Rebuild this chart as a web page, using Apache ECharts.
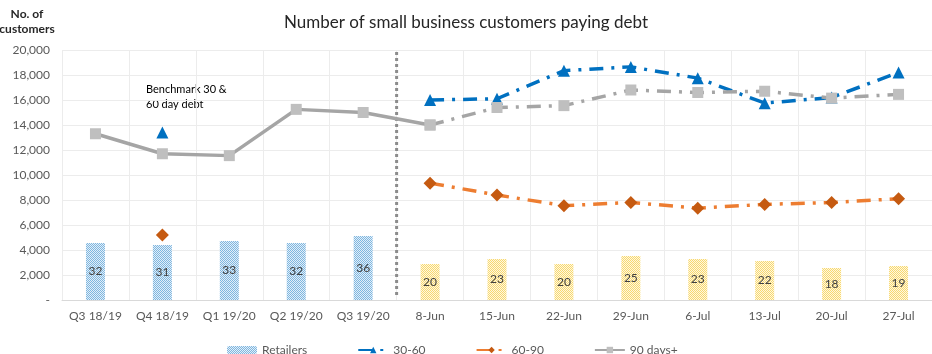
<!DOCTYPE html>
<html>
<head>
<meta charset="utf-8">
<script src="https://cdn.jsdelivr.net/npm/echarts@6/dist/echarts.min.js"></script>
<style>
html,body{margin:0;padding:0;background:#fff;}
#chart{width:932px;height:354px;}
</style>
</head>
<body>
<div id="chart"></div>
<script>
const categories = ['Q3 18/19','Q4 18/19','Q1 19/20','Q2 19/20','Q3 19/20','8-Jun','15-Jun','22-Jun','29-Jun','6-Jul','13-Jul','20-Jul','27-Jul'];
const retailerHeights = [4560,4400,4720,4560,5120,2880,3280,2880,3520,3280,3120,2560,2720];
const retailerLabels = [32,31,33,32,36,20,23,20,25,23,22,18,19];
const days30to60 = [null,13400,null,null,null,16000,16100,18350,18650,17750,15750,16200,18200];
const days60to90 = [null,5200,null,null,null,9350,8400,7550,7800,7350,7650,7800,8100];
const days90plus = [13300,11700,11550,15250,15000,14000,15400,15550,16800,16600,16700,16150,16450];
const weeklyStart = 5; // index of first weekly category

function pattern(c1, c2) {
  const cv = document.createElement('canvas');
  cv.width = 2; cv.height = 2;
  const ctx = cv.getContext('2d');
  ctx.fillStyle = c2; ctx.fillRect(0,0,2,2);
  ctx.fillStyle = c1; ctx.fillRect(0,0,1,1); ctx.fillRect(1,1,1,1);
  return {image: cv, repeat: 'repeat'};
}
const bluePat = pattern('#7fb6df', '#e2eff9');
const yellowPat = pattern('#f7d872', '#fff8de');

const FONT = 'Lato';
const barData = retailerHeights.map((v, i) => ({
  value: v,
  itemStyle: {color: i < weeklyStart ? bluePat : yellowPat},
  label: {formatter: String(retailerLabels[i])}
}));
const greySolid = days90plus.map((v, i) => i <= weeklyStart ? v : null);
const greyDashed = days90plus.map((v, i) => i >= weeklyStart ? v : null);
const dashDot = [14, 8, 3, 8];

const chart = echarts.init(document.getElementById('chart'));
chart.setOption({
  animation: false,
  textStyle: {fontFamily: FONT},
  title: {
    text: 'Number of small business customers paying debt',
    left: 'center', top: 9,
    textStyle: {fontFamily: FONT, fontSize: 17, fontWeight: 'normal', color: '#262626'}
  },
  graphic: [
    {type: 'text', x: 27, y: 8, silent: true, style: {text: 'No. of', align: 'center', fontFamily: FONT, fontSize: 12, fontWeight: 'bold', fill: '#262626'}},
    {type: 'text', x: 27, y: 23, silent: true, style: {text: 'customers', align: 'center', fontFamily: FONT, fontSize: 12, fontWeight: 'bold', fill: '#262626'}},
    {type: 'text', x: 146, y: 82, silent: true, style: {text: 'Benchmark 30 &\n60 day debt', lineHeight: 15, fontFamily: FONT, fontSize: 11, fill: '#000'}}
  ],
  legend: {
    data: ['Retailers', '30-60', '60-90', '90 days+'],
    left: 222, top: 339,
    itemWidth: 30, itemHeight: 8, itemGap: 50,
    textStyle: {fontFamily: FONT, fontSize: 12, color: '#595959'}
  },
  grid: {left: 62, right: 0, top: 50, bottom: 54},
  xAxis: [{
    type: 'category',
    data: categories,
    boundaryGap: true,
    axisLine: {lineStyle: {color: '#d9d9d9'}},
    axisTick: {show: false},
    axisLabel: {color: '#595959', fontSize: 12, fontFamily: FONT, margin: 10, interval: 0},
    splitLine: {show: true, lineStyle: {color: '#ececec'}}
  }, {
    type: 'value', min: 0, max: categories.length, show: false
  }],
  yAxis: {
    type: 'value', min: 0, max: 20000, interval: 2000,
    axisLine: {show: false}, axisTick: {show: false},
    axisLabel: {
      color: '#595959', fontSize: 12, fontFamily: FONT, margin: 12,
      formatter: v => v === 0 ? '-' : v.toLocaleString('en-US')
    },
    splitLine: {lineStyle: {color: '#ececec'}}
  },
  series: [
    {
      name: 'Retailers', type: 'bar', data: barData, barWidth: 19,
      itemStyle: {color: bluePat},
      label: {show: true, position: 'inside', color: '#404040', fontSize: 12, fontFamily: FONT}
    },
    {
      name: '__divider', type: 'line', xAxisIndex: 1,
      data: [[weeklyStart, 400], [weeklyStart, 20000]],
      symbol: 'none', silent: true,
      lineStyle: {color: '#8c8c8c', width: 3, type: [3, 3]}
    },
    {
      name: '30-60', type: 'line', data: days30to60, connectNulls: false,
      symbol: 'triangle', symbolSize: 12,
      itemStyle: {color: '#0070c0'},
      lineStyle: {color: '#0070c0', width: 3.5, type: dashDot, cap: 'butt'}
    },
    {
      name: '60-90', type: 'line', data: days60to90, connectNulls: false,
      symbol: 'diamond', symbolSize: 13,
      itemStyle: {color: '#c55a11'},
      lineStyle: {color: '#ed7d31', width: 3.5, type: dashDot, cap: 'butt'}
    },
    {
      name: '90 days+', type: 'line', data: greySolid, connectNulls: false,
      symbol: 'rect', symbolSize: 11,
      itemStyle: {color: '#bfbfbf'},
      lineStyle: {color: '#a5a5a5', width: 3.5}
    },
    {
      name: '90 days+', type: 'line', data: greyDashed, connectNulls: false,
      symbol: 'rect', symbolSize: 11,
      itemStyle: {color: '#bfbfbf'},
      lineStyle: {color: '#a5a5a5', width: 3.5, type: dashDot, cap: 'butt'}
    }
  ]
});
</script>
</body>
</html>
